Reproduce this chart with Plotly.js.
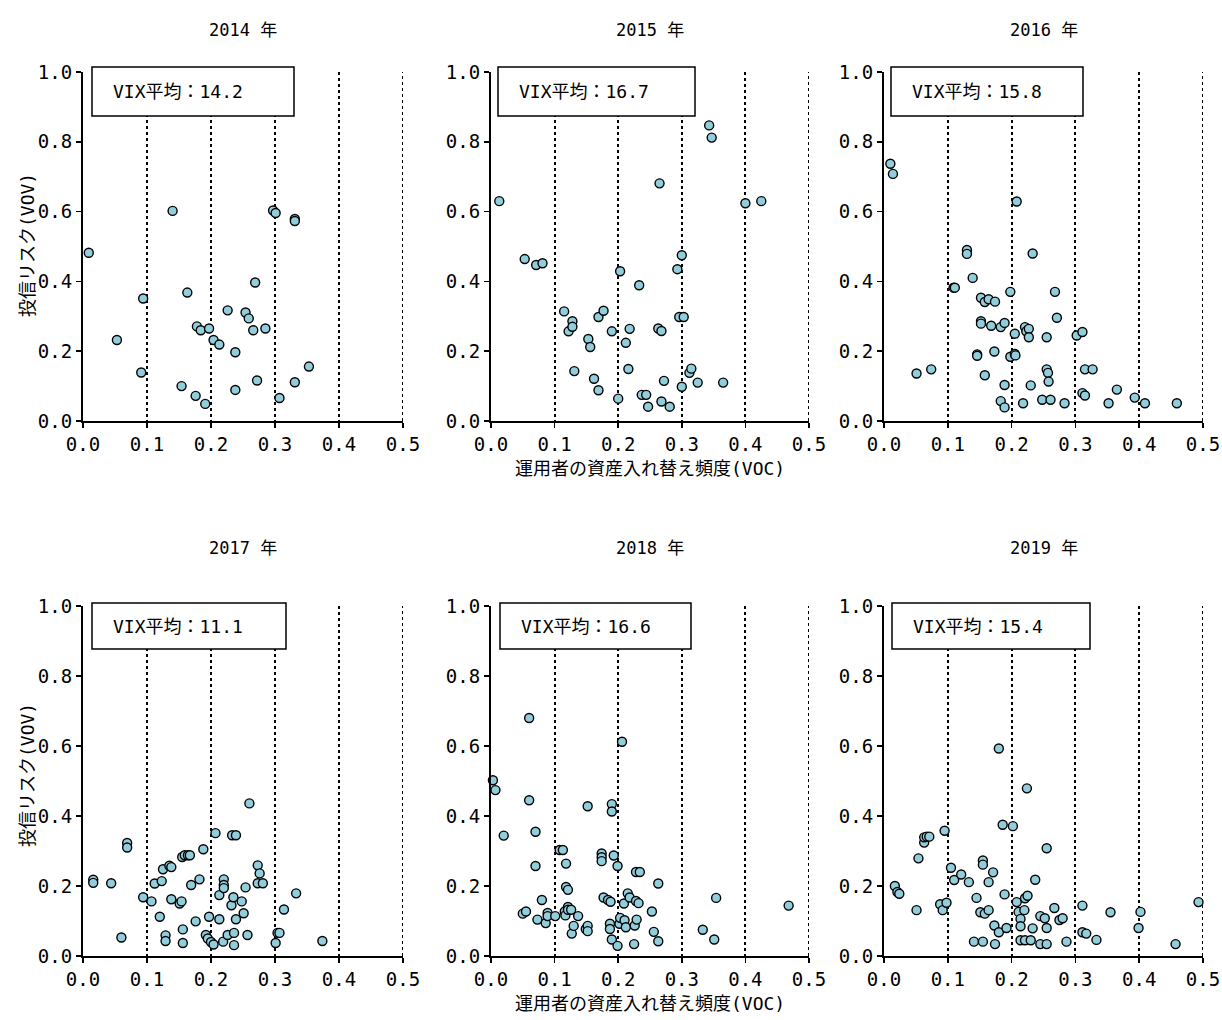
<!DOCTYPE html>
<html>
<head>
<meta charset="utf-8">
<script src="https://cdn.plot.ly/plotly-3.0.1.min.js"></script>
<style>html,body{margin:0;padding:0;background:#fff;}</style>
</head>
<body>
<div id="chart" style="width:1222px;height:1020px;"></div>
<script>
const years = ['2014 年', '2015 年', '2016 年', '2017 年', '2018 年', '2019 年'];
const vixLabels = ['VIX平均：14.2', 'VIX平均：16.7', 'VIX平均：15.8', 'VIX平均：11.1', 'VIX平均：16.6', 'VIX平均：15.4'];
const xTitle = '運用者の資産入れ替え頻度(VOC)';
const yTitle = '投信リスク(VOV)';

const voc2014 = [0.009,0.053,0.091,0.094,0.140,0.154,0.163,0.176,0.178,0.184,0.191,0.197,0.204,0.213,0.226,0.238,0.238,0.254,0.259,0.266,0.269,0.272,0.285,0.297,0.301,0.307,0.331,0.331,0.331,0.353];
const vov2014 = [0.482,0.232,0.139,0.351,0.602,0.100,0.368,0.072,0.271,0.260,0.049,0.265,0.232,0.219,0.317,0.197,0.089,0.311,0.294,0.260,0.397,0.116,0.265,0.603,0.596,0.066,0.579,0.573,0.111,0.156];

const voc2015 = [0.013,0.053,0.071,0.081,0.115,0.122,0.128,0.128,0.131,0.153,0.156,0.162,0.169,0.169,0.177,0.190,0.200,0.203,0.212,0.216,0.218,0.233,0.237,0.244,0.247,0.263,0.265,0.268,0.268,0.272,0.281,0.293,0.296,0.300,0.300,0.303,0.312,0.315,0.325,0.343,0.347,0.365,0.400,0.425];
const vov2015 = [0.630,0.464,0.447,0.452,0.314,0.257,0.286,0.270,0.143,0.235,0.212,0.121,0.298,0.088,0.316,0.257,0.064,0.429,0.224,0.149,0.264,0.389,0.075,0.075,0.041,0.265,0.681,0.258,0.056,0.115,0.041,0.435,0.298,0.475,0.098,0.298,0.138,0.150,0.110,0.847,0.812,0.110,0.624,0.630];

const voc2016 = [0.010,0.014,0.051,0.074,0.109,0.111,0.130,0.130,0.139,0.146,0.146,0.152,0.152,0.152,0.158,0.158,0.164,0.168,0.173,0.174,0.183,0.183,0.189,0.189,0.189,0.198,0.198,0.205,0.205,0.206,0.208,0.218,0.221,0.223,0.227,0.227,0.230,0.233,0.248,0.255,0.255,0.257,0.258,0.261,0.268,0.271,0.283,0.302,0.311,0.311,0.315,0.315,0.327,0.352,0.365,0.393,0.409,0.459];
const vov2016 = [0.737,0.708,0.136,0.148,0.382,0.382,0.490,0.479,0.410,0.191,0.187,0.353,0.286,0.279,0.131,0.341,0.349,0.273,0.199,0.342,0.269,0.057,0.281,0.103,0.039,0.370,0.184,0.250,0.192,0.188,0.629,0.051,0.269,0.257,0.264,0.240,0.102,0.480,0.061,0.240,0.148,0.138,0.113,0.061,0.370,0.296,0.051,0.245,0.255,0.080,0.148,0.073,0.148,0.051,0.090,0.067,0.051,0.051];

const voc2017 = [0.016,0.016,0.044,0.060,0.069,0.069,0.094,0.107,0.112,0.120,0.123,0.125,0.129,0.129,0.135,0.138,0.138,0.151,0.154,0.155,0.156,0.156,0.159,0.164,0.167,0.169,0.176,0.182,0.188,0.192,0.195,0.197,0.200,0.204,0.207,0.213,0.213,0.219,0.220,0.220,0.220,0.226,0.232,0.233,0.235,0.236,0.236,0.239,0.239,0.248,0.251,0.254,0.257,0.260,0.273,0.273,0.276,0.281,0.301,0.304,0.307,0.314,0.333,0.374];
const vov2017 = [0.218,0.209,0.208,0.053,0.323,0.310,0.168,0.156,0.207,0.112,0.214,0.248,0.059,0.043,0.258,0.254,0.162,0.150,0.156,0.283,0.076,0.037,0.288,0.288,0.288,0.203,0.099,0.219,0.305,0.060,0.050,0.112,0.040,0.033,0.351,0.174,0.105,0.041,0.219,0.203,0.194,0.060,0.145,0.345,0.168,0.066,0.031,0.345,0.105,0.156,0.122,0.196,0.060,0.436,0.259,0.208,0.236,0.208,0.037,0.066,0.066,0.133,0.179,0.043];

const voc2018 = [0.003,0.007,0.020,0.050,0.055,0.060,0.060,0.070,0.070,0.073,0.080,0.086,0.089,0.089,0.101,0.108,0.113,0.116,0.117,0.118,0.118,0.121,0.121,0.121,0.126,0.127,0.130,0.137,0.149,0.152,0.152,0.152,0.174,0.174,0.174,0.177,0.184,0.187,0.187,0.188,0.190,0.190,0.190,0.193,0.199,0.199,0.202,0.203,0.206,0.209,0.210,0.212,0.215,0.218,0.225,0.226,0.228,0.228,0.229,0.232,0.234,0.253,0.256,0.263,0.263,0.333,0.351,0.354,0.468];
const vov2018 = [0.502,0.474,0.344,0.121,0.127,0.680,0.445,0.355,0.257,0.104,0.160,0.094,0.123,0.114,0.114,0.303,0.303,0.127,0.116,0.264,0.197,0.189,0.140,0.132,0.132,0.064,0.086,0.114,0.077,0.428,0.086,0.071,0.293,0.282,0.271,0.167,0.160,0.092,0.077,0.155,0.434,0.413,0.047,0.287,0.257,0.029,0.092,0.109,0.612,0.150,0.102,0.082,0.179,0.167,0.034,0.087,0.240,0.157,0.104,0.151,0.240,0.127,0.069,0.042,0.207,0.075,0.047,0.166,0.144];

const voc2019 = [0.017,0.021,0.024,0.051,0.054,0.063,0.063,0.067,0.071,0.088,0.092,0.095,0.098,0.105,0.110,0.121,0.133,0.141,0.145,0.151,0.155,0.155,0.155,0.158,0.164,0.164,0.171,0.173,0.174,0.180,0.180,0.186,0.189,0.192,0.202,0.208,0.211,0.214,0.214,0.214,0.220,0.221,0.221,0.224,0.225,0.230,0.233,0.237,0.245,0.245,0.252,0.255,0.255,0.255,0.267,0.275,0.280,0.286,0.311,0.311,0.317,0.333,0.355,0.399,0.402,0.457,0.493];
const vov2019 = [0.200,0.183,0.178,0.131,0.279,0.324,0.339,0.341,0.341,0.148,0.131,0.358,0.152,0.252,0.217,0.233,0.211,0.041,0.166,0.125,0.273,0.261,0.041,0.121,0.211,0.131,0.239,0.087,0.034,0.593,0.068,0.375,0.176,0.080,0.371,0.154,0.126,0.106,0.085,0.045,0.131,0.165,0.045,0.479,0.172,0.045,0.079,0.218,0.114,0.034,0.108,0.034,0.308,0.080,0.137,0.103,0.108,0.041,0.144,0.068,0.064,0.046,0.125,0.080,0.126,0.034,0.154];

const vocSeries = [voc2014, voc2015, voc2016, voc2017, voc2018, voc2019];
const vovSeries = [vov2014, vov2015, vov2016, vov2017, vov2018, vov2019];

const W = 1222, H = 1020;
const FONT = '"DejaVu Sans Mono", "Noto Sans CJK JP", monospace';
// pixel layout of plotting areas
const colPx = [[83, 403], [491, 809], [884, 1203]];
const rowPx = [[72, 421], [606, 956]];
const boxPx = [[92, 294], [498, 695], [891, 1083], [92, 286], [500, 691], [892, 1090]];
const boxY = [[67, 116], [603, 649]];

const traces = [];
const layout = {
  width: W, height: H,
  margin: {l: 0, r: 0, t: 0, b: 0},
  paper_bgcolor: '#fff', plot_bgcolor: '#fff',
  showlegend: false,
  font: {family: FONT, color: '#000', size: 18},
  annotations: [], shapes: []
};

for (let i = 0; i < 6; i++) {
  const r = Math.floor(i / 3), c = i % 3;
  const n = i === 0 ? '' : String(i + 1);
  const xa = 'xaxis' + n, ya = 'yaxis' + n;
  const xr = 'x' + n, yr = 'y' + n;
  traces.push({
    type: 'scatter', mode: 'markers',
    x: vocSeries[i], y: vovSeries[i],
    xaxis: xr, yaxis: yr,
    cliponaxis: false,
    marker: {size: 9, color: '#92CDDC', line: {color: '#000', width: 1.4}},
    hoverinfo: 'x+y'
  });
  const [px0, px1] = colPx[c];
  const [py0, py1] = rowPx[r];
  layout[xa] = {
    domain: [px0 / W, px1 / W],
    anchor: yr,
    range: [0, 0.5], dtick: 0.1, tick0: 0, tickformat: '.1f',
    showline: true, linecolor: '#000', linewidth: 2,
    ticks: 'outside', ticklen: 5, tickwidth: 1.5, tickcolor: '#000',
    showgrid: true, gridcolor: '#000', gridwidth: 2, griddash: 'dot',
    zeroline: false,
    tickfont: {family: FONT, size: 19, color: '#000'},
    fixedrange: true
  };
  layout[ya] = {
    domain: [1 - py1 / H, 1 - py0 / H],
    anchor: xr,
    range: [0, 1], dtick: 0.2, tick0: 0, tickformat: '.1f',
    showline: true, linecolor: '#000', linewidth: 2,
    ticks: 'outside', ticklen: 5, tickwidth: 1.5, tickcolor: '#000',
    showgrid: false, zeroline: false,
    tickfont: {family: FONT, size: 19, color: '#000'},
    fixedrange: true
  };
  // dotted line at the right edge (x = 0.5), drawn through the x scale
  layout.shapes.push({
    type: 'line', xref: xr, yref: yr + ' domain',
    x0: 0.5, x1: 0.5, y0: 0, y1: 1,
    line: {color: '#000', width: 2, dash: 'dot'}, layer: 'below'
  });
  // year title
  layout.annotations.push({
    xref: 'paper', yref: 'paper',
    x: (px0 + px1) / 2 / W, y: 1 - (r === 0 ? 30 : 548) / H,
    xanchor: 'center', yanchor: 'middle',
    text: years[i], showarrow: false,
    font: {family: FONT, size: 17, color: '#000'}
  });
  // VIX box
  const [bx0, bx1] = boxPx[i];
  const [by0, by1] = boxY[r];
  layout.shapes.push({
    type: 'rect', xref: 'paper', yref: 'paper',
    x0: bx0 / W, x1: bx1 / W, y0: 1 - by1 / H, y1: 1 - by0 / H,
    line: {color: '#000', width: 1.5}, fillcolor: '#fff', layer: 'above'
  });
  layout.annotations.push({
    xref: 'paper', yref: 'paper',
    x: (bx0 + 19) / W, y: 1 - (by0 + by1) / 2 / H,
    xanchor: 'left', yanchor: 'middle',
    text: vixLabels[i], showarrow: false,
    font: {family: FONT, size: 18, color: '#000'}
  });
}

// axis titles (one per row / column, as in the original)
[469, 1003].forEach(py => layout.annotations.push({
  xref: 'paper', yref: 'paper', x: 650 / W, y: 1 - py / H,
  xanchor: 'center', yanchor: 'middle', text: xTitle, showarrow: false,
  font: {family: FONT, size: 18, color: '#000'}
}));
[245, 775].forEach(py => layout.annotations.push({
  xref: 'paper', yref: 'paper', x: 27 / W, y: 1 - py / H,
  xanchor: 'center', yanchor: 'middle', text: yTitle, showarrow: false,
  textangle: -90,
  font: {family: FONT, size: 18, color: '#000'}
}));

Plotly.newPlot('chart', traces, layout, {staticPlot: true, displayModeBar: false});
</script>
</body>
</html>
